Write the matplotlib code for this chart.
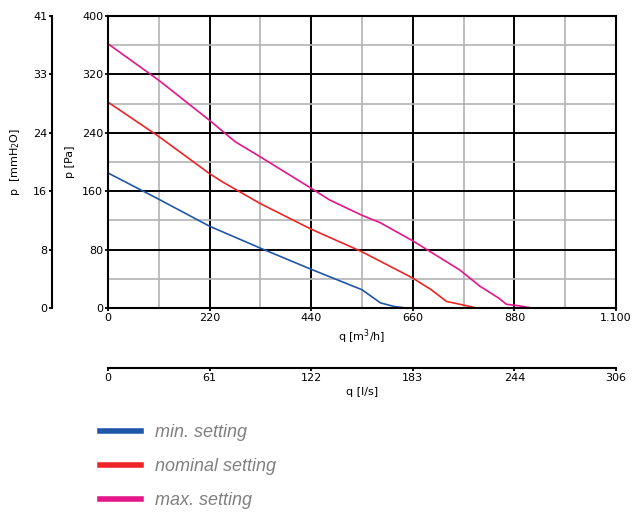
import matplotlib.pyplot as plt
from matplotlib.ticker import MultipleLocator, FixedLocator

# flow q [m3/h] and pressure p [Pa]
q_min = [0, 110, 220, 330, 440, 550, 590, 620, 645]
p_min = [185, 149, 112, 82, 53, 25, 7, 2, 0]

q_nom = [0, 110, 220, 250, 330, 440, 550, 660, 700, 733, 770, 798]
p_nom = [282, 235, 184, 172, 143, 108, 77, 41, 25, 9, 4, 0]

q_max = [0, 110, 220, 275, 330, 440, 480, 550, 589, 660, 762, 805, 845, 863, 890, 917]
p_max = [362, 312, 257, 228, 207, 164, 148, 127, 117, 92, 52, 30, 14, 5, 3, 0]

x_ticks = [0, 220, 440, 660, 880, 1100]
x_labels = ['0', '220', '440', '660', '880', '1.100']
ls_labels = ['0', '61', '122', '183', '244', '306']
pa_ticks = [0, 80, 160, 240, 320, 400]
mm_labels = ['0', '8', '16', '24', '33', '41']

labels = ['min. setting', 'nominal setting', 'max. setting']
colors = ['#1f57a8', '#ee2426', '#e5158a']

plt.rcParams['font.family'] = 'DejaVu Sans'
fs = 8

fig = plt.figure(figsize=(6.33, 5.14), dpi=100)
ax = fig.add_axes([0.1706, 0.4008, 0.8025, 0.568])

ax.plot(q_min, p_min, color=colors[0], lw=1.2, label=labels[0])
ax.plot(q_nom, p_nom, color=colors[1], lw=1.2, label=labels[1])
ax.plot(q_max, p_max, color=colors[2], lw=1.2, label=labels[2])

ax.set_xlim(0, 1100)
ax.set_ylim(0, 400)
ax.xaxis.set_major_locator(FixedLocator(x_ticks))
ax.set_xticklabels(x_labels)
ax.yaxis.set_major_locator(FixedLocator(pa_ticks))
ax.xaxis.set_minor_locator(MultipleLocator(110))
ax.yaxis.set_minor_locator(MultipleLocator(40))
ax.grid(which='minor', color='#b3b3b3', lw=1.2)
ax.grid(which='major', color='black', lw=1.4)
ax.set_axisbelow(True)
ax.tick_params(which='minor', length=0)
ax.tick_params(which='major', labelsize=fs, length=2.5, width=1.3, pad=1)
for s in ax.spines.values():
    s.set_linewidth(1.5)
ax.set_xlabel('q [m$^3$/h]', fontsize=fs, labelpad=3)
ax.set_ylabel('p [Pa]', fontsize=fs, labelpad=5)

# left axis in mmH2O
ax2 = fig.add_axes([0.0822, 0.4008, 0.0001, 0.568])
ax2.set_ylim(0, 400)
ax2.yaxis.set_major_locator(FixedLocator(pa_ticks))
ax2.set_yticklabels(mm_labels)
ax2.set_xticks([])
for k in ['top', 'right', 'bottom']:
    ax2.spines[k].set_visible(False)
ax2.spines['left'].set_linewidth(1.5)
ax2.tick_params(labelsize=fs, length=2.5, width=1.3, pad=1)
ax2.set_ylabel('p  [mmH$_2$O]', fontsize=fs, labelpad=8)

# bottom axis in l/s
ax3 = fig.add_axes([0.1706, 0.284, 0.8025, 0.0001])
ax3.set_xlim(0, 1100)
ax3.xaxis.set_major_locator(FixedLocator(x_ticks))
ax3.set_xticklabels(ls_labels)
ax3.set_yticks([])
for k in ['top', 'right', 'left']:
    ax3.spines[k].set_visible(False)
ax3.spines['bottom'].set_linewidth(1.5)
ax3.tick_params(labelsize=fs, length=2.5, width=1.3, direction='out', pad=1)
ax3.set_xlabel('q [l/s]', fontsize=fs, labelpad=3)

leg = fig.legend(loc='upper left', bbox_to_anchor=(0.132, 0.207), frameon=False,
                 handlelength=2.3, handletextpad=0.77, labelspacing=0.95,
                 prop={'family': 'Liberation Sans', 'style': 'italic', 'size': 13})
for h in leg.get_lines():
    h.set_linewidth(4)
for t in leg.get_texts():
    t.set_color('#808080')

fig.savefig('out.png', dpi=100)
